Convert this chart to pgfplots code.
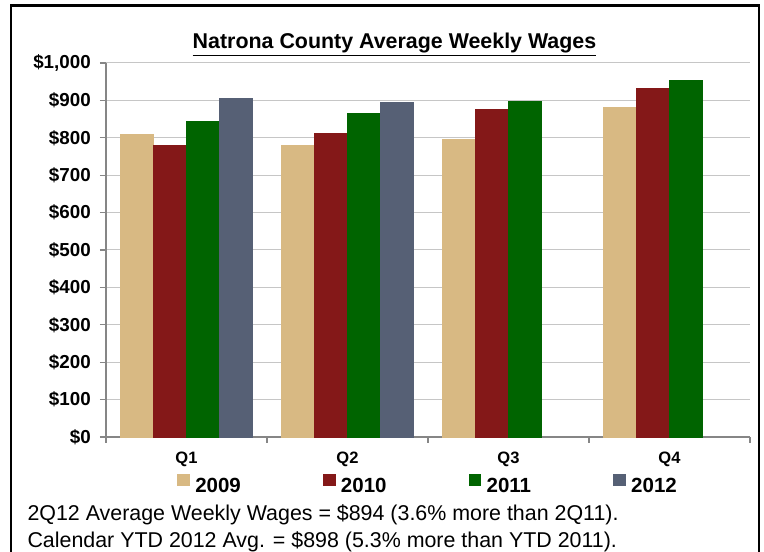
\documentclass[border=0pt]{standalone}
\usepackage{fontspec}
\setmainfont{Liberation Sans}
\usepackage{pgfplots}
\pgfplotsset{compat=1.18}

\definecolor{c09}{HTML}{D8B983}
\definecolor{c10}{HTML}{841818}
\definecolor{c11}{HTML}{006400}
\definecolor{c12}{HTML}{566075}
\definecolor{axisgray}{HTML}{868686}
\definecolor{gridgray}{HTML}{C6C6C6}

\begin{document}
\begin{tikzpicture}
\useasboundingbox (0pt,0pt) rectangle (764pt,552pt);
% outer frame (bottom edge runs off the picture)
\draw[line width=2.2pt] (11pt,-6pt) -- (11pt,546.5pt) -- (759pt,546.5pt) -- (759pt,-6pt);
\node[anchor=base, font=\fontsize{21.4}{24}\selectfont\bfseries] at (394.5pt,503pt)
  {\underline{Natrona County Average Weekly Wages}};

\begin{axis}[
  at={(106pt,115pt)}, anchor=south west,
  scale only axis, width=644pt, height=374pt,
  xmin=0, xmax=4, ymin=0, ymax=1000,
  ybar, bar width=0.205,
  axis x line*=bottom, axis y line*=left,
  axis line style={draw=axisgray, line width=1.3pt},
  tick align=outside, major tick length=6pt,
  tick style={draw=axisgray, line width=1.3pt},
  ymajorgrids, grid style={draw=gridgray, line width=1pt},
  ytick={0,100,200,300,400,500,600,700,800,900,1000},
  yticklabels={\$0,\$100,\$200,\$300,\$400,\$500,\$600,\$700,\$800,\$900,\$1{,}000},
  yticklabel style={font=\fontsize{18.8}{20}\selectfont\bfseries, inner sep=0pt, xshift=-9pt},
  xtick={0,1,2,3,4}, x tick label as interval,
  xticklabels={Q1,Q2,Q3,Q4},
  xticklabel style={font=\fontsize{16.5}{18}\selectfont\bfseries, inner sep=0pt, yshift=-9pt},
  legend columns=4,
  legend style={draw=none, fill=none, inner sep=0pt,
    at={(0.1102,-0.1257)}, anchor=west,
    font=\fontsize{20.5}{22}\selectfont\bfseries,
    nodes={inner sep=0pt},
    /tikz/every odd column/.style={column sep=6pt},
    /tikz/every even column/.style={column sep=82pt}},
  legend image code/.code={\fill[#1] (0pt,0.8pt) rectangle (11.7pt,12.5pt);},
  clip=false,
]
\addplot[fill=c09, draw=c09, bar shift=-0.3075] coordinates {(0.5,809) (1.5,780) (2.5,796) (3.5,882)};
\addplot[fill=c10, draw=c10, bar shift=-0.1025] coordinates {(0.5,780) (1.5,812) (2.5,876) (3.5,933)};
\addplot[fill=c11, draw=c11, bar shift=0.1025] coordinates {(0.5,844) (1.5,865) (2.5,898) (3.5,954)};
\addplot[fill=c12, draw=c12, bar shift=0.3075] coordinates {(0.5,905) (1.5,894)};
\legend{2009,2010,2011,2012}
\end{axis}

\node[anchor=base west, font=\fontsize{21.4}{24}\selectfont] at (24pt,31pt)
  {2Q12 Average Weekly Wages = \$894 (3.6\% more than 2Q11).};
\node[anchor=base west, font=\fontsize{21.4}{24}\selectfont] at (24pt,4pt)
  {Calendar YTD 2012 Avg. = \$898 (5.3\% more than YTD 2011).};
\end{tikzpicture}
\end{document}
